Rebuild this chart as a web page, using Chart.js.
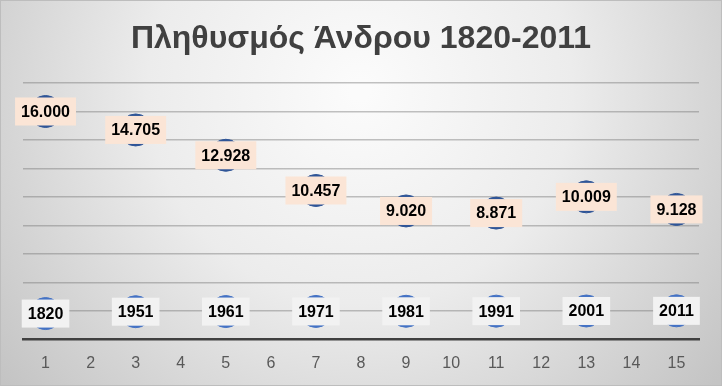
<!DOCTYPE html>
<html>
<head>
<meta charset="utf-8">
<script src="https://cdn.jsdelivr.net/npm/chart.js@4/dist/chart.umd.min.js"></script>
<style>
  html, body { margin: 0; padding: 0; background: #ffffff; }
  #chart { display: block; }
</style>
</head>
<body>
<canvas id="chart" width="722" height="386"></canvas>
<script>
// δεδομένα
const categories = ["1", "2", "3", "4", "5", "6", "7", "8", "9", "10", "11", "12", "13", "14", "15"];
const population = [16000, null, 14705, null, 12928, null, 10457, null, 9020, null, 8871, null, 10009, null, 9128];
const years = [1820, null, 1951, null, 1961, null, 1971, null, 1981, null, 1991, null, 2001, null, 2011];
const yTicks = [0, 2000, 4000, 6000, 8000, 10000, 12000, 14000, 16000, 18000];

const labelFont = "bold 16px 'Liberation Sans', Arial, sans-serif";

// τελεία για τις χιλιάδες
function formatThousands(n) {
  return String(n).replace(/\B(?=(\d{3})+(?!\d))/g, ".");
}

// φόντο με ακτινική διαβάθμιση
const backgroundPlugin = {
  id: "background",
  beforeDraw(chart) {
    const ctx = chart.ctx;
    const w = chart.width, h = chart.height;
    const g = ctx.createRadialGradient(360, 90, 10, 360, 90, 460);
    g.addColorStop(0, "#fbfbfb");
    g.addColorStop(0.45, "#ececec");
    g.addColorStop(1, "#c4c4c4");
    ctx.save();
    ctx.fillStyle = g;
    ctx.fillRect(0, 0, w, h);
    ctx.strokeStyle = "#bdbdbd";
    ctx.lineWidth = 1;
    ctx.strokeRect(0.5, 0.5, w - 1, h - 1);
    ctx.restore();
  }
};

// ετικέτες δεδομένων πάνω στα σημεία
const dataLabelPlugin = {
  id: "dataLabels",
  afterDatasetsDraw(chart) {
    const ctx = chart.ctx;
    ctx.save();
    ctx.font = labelFont;
    ctx.textAlign = "center";
    ctx.textBaseline = "middle";
    chart.data.datasets.forEach((ds, di) => {
      const meta = chart.getDatasetMeta(di);
      meta.data.forEach((pt, i) => {
        const v = ds.data[i];
        if (v === null || v === undefined) return;
        const text = ds.labelFormat ? ds.labelFormat(v) : String(v);
        const tw = ctx.measureText(text).width;
        const bw = tw + 12, bh = 28;
        ctx.fillStyle = ds.labelBg;
        ctx.fillRect(pt.x - bw / 2, pt.y - bh / 2, bw, bh);
        ctx.fillStyle = "#000000";
        ctx.fillText(text, pt.x, pt.y + 1);
      });
    });
    ctx.restore();
  }
};

new Chart(document.getElementById("chart"), {
  type: "line",
  data: {
    labels: categories,
    datasets: [
      {
        label: "Πληθυσμός",
        data: population,
        showLine: false,
        pointRadius: 16,
        pointBackgroundColor: "#2f5597",
        pointBorderColor: "#2f5597",
        pointBorderWidth: 1,
        labelBg: "#fbe5d6",
        labelFormat: formatThousands
      },
      {
        label: "Έτος",
        data: years,
        showLine: false,
        pointRadius: 16,
        pointBackgroundColor: "#4472c4",
        pointBorderColor: "#4472c4",
        pointBorderWidth: 1,
        labelBg: "#f2f2f2"
      }
    ]
  },
  options: {
    responsive: false,
    animation: false,
    layout: { padding: { left: 23, right: 23, top: 0, bottom: 0 } },
    plugins: {
      legend: { display: false },
      tooltip: { enabled: false },
      title: {
        display: true,
        text: "Πληθυσμός Άνδρου 1820-2011",
        color: "#404040",
        font: { family: "'Liberation Sans', Arial, sans-serif", size: 32, weight: "bold" },
        padding: { top: 20, bottom: 24.6 }
      }
    },
    scales: {
      x: {
        type: "category",
        offset: true,
        grid: { display: true, color: "rgba(0,0,0,0)", drawTicks: false },
        border: { display: true, color: "#404040", width: 2.5 },
        ticks: {
          color: "#595959",
          padding: 14,
          font: { family: "'Liberation Sans', Arial, sans-serif", size: 16 }
        },
        afterFit(scale) {
          scale.height = 46.5;
        }
      },
      y: {
        min: yTicks[0],
        max: yTicks[yTicks.length - 1],
        afterBuildTicks(scale) {
          scale.ticks = yTicks.map(v => ({ value: v }));
        },
        ticks: { display: false },
        border: { display: false },
        grid: {
          drawTicks: false,
          lineWidth: 1.5,
          color: ctx => (ctx.tick && ctx.tick.value === 0) ? "rgba(0,0,0,0)" : "rgba(120,120,120,0.45)"
        }
      }
    }
  },
  plugins: [backgroundPlugin, dataLabelPlugin]
});
</script>
</body>
</html>
